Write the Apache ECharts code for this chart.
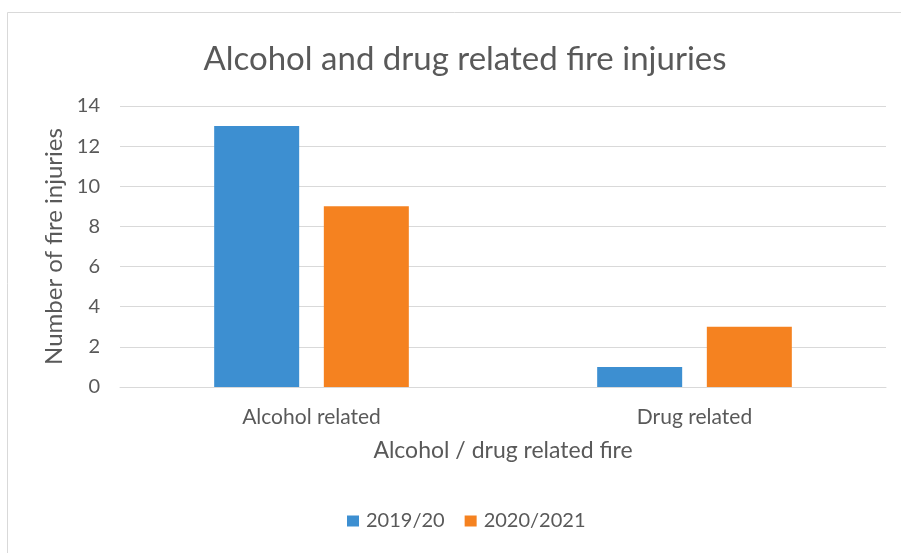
<!DOCTYPE html>
<html>
<head>
<meta charset="utf-8">
<script src="https://cdn.jsdelivr.net/npm/echarts@6/dist/echarts.min.js"></script>
<style>
  html, body { margin: 0; padding: 0; background: #fff; }
  #chart { width: 901px; height: 553px; }
</style>
</head>
<body>
<div id="chart"></div>
<script>
// Fire injuries by cause, two reporting years
const categories = ['Alcohol related', 'Drug related'];
const seriesNames = ['2019/20', '2020/2021'];
const values2019 = [13, 1];
const values2020 = [9, 3];
const yTicks = { min: 0, max: 14, interval: 2 };

const FONT = 'Lato, "Open Sans", sans-serif';
const TEXT = '#595959';

const chart = echarts.init(document.getElementById('chart'), null, { renderer: 'canvas' });
chart.setOption({
  backgroundColor: '#ffffff',
  animation: false,
  title: {
    text: 'Alcohol and drug related fire injuries',
    left: 460,
    textAlign: 'center',
    top: 38,
    textStyle: { fontFamily: FONT, fontSize: 33, fontWeight: 'normal', color: TEXT }
  },
  graphic: [{
    type: 'rect',
    shape: { x: 7.5, y: 12.5, width: 1000, height: 700 },
    style: { fill: 'none', stroke: '#d9d9d9', lineWidth: 1 },
    silent: true
  }],
  legend: {
    data: seriesNames,
    bottom: 17,
    left: 342,
    itemWidth: 12,
    itemHeight: 11,
    itemGap: 20,
    icon: 'rect',
    textStyle: { fontFamily: FONT, fontSize: 20, color: TEXT, padding: [0, 0, 0, 2] }
  },
  grid: { left: 120, right: 15, top: 106, bottom: 166, containLabel: false },
  xAxis: {
    type: 'category',
    data: categories,
    name: 'Alcohol / drug related fire',
    nameLocation: 'middle',
    nameGap: 52,
    nameTextStyle: { fontFamily: FONT, fontSize: 23, color: TEXT },
    axisLine: { show: true, lineStyle: { color: '#d9d9d9', width: 1 } },
    axisTick: { show: false },
    axisLabel: { fontFamily: FONT, fontSize: 21, color: TEXT, margin: 20 }
  },
  yAxis: {
    type: 'value',
    min: yTicks.min,
    max: yTicks.max,
    interval: yTicks.interval,
    name: 'Number of fire injuries',
    nameLocation: 'middle',
    nameGap: 46,
    nameTextStyle: { fontFamily: FONT, fontSize: 24, color: TEXT },
    axisLine: { show: false },
    axisTick: { show: false },
    axisLabel: { fontFamily: FONT, fontSize: 20, color: TEXT, margin: 20 },
    splitLine: { lineStyle: { color: '#d9d9d9', width: 1 } }
  },
  series: [
    {
      name: seriesNames[0],
      type: 'bar',
      data: values2019,
      barWidth: 85,
      barGap: '29%',
      itemStyle: { color: '#3d8fd1' }
    },
    {
      name: seriesNames[1],
      type: 'bar',
      data: values2020,
      barWidth: 85,
      itemStyle: { color: '#f58220' }
    }
  ]
});
</script>
</body>
</html>
